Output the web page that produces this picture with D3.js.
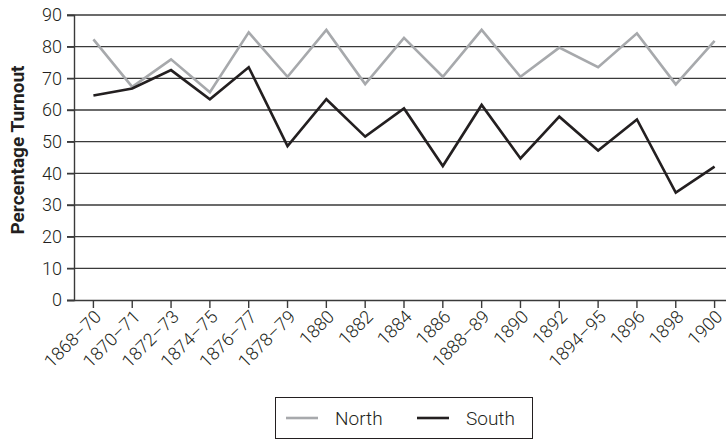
<!DOCTYPE html>
<html><head><meta charset="utf-8">
<script src="https://cdn.jsdelivr.net/npm/d3@7"></script>
<style>body{margin:0;background:#fff;} svg{display:block;font-family:Roboto,"DejaVu Sans",sans-serif;}</style>
</head><body>
<svg id="c" width="726" height="440"></svg>
<script>
const categories = ["1868–70","1870–71","1872–73","1874–75","1876–77","1878–79","1880","1882","1884","1886","1888–89","1890","1892","1894–95","1896","1898","1900"];
const north = [82.3,67.3,76.0,65.6,84.5,70.5,85.3,68.2,82.8,70.5,85.3,70.5,79.7,73.5,84.2,68.1,81.8];
const south = [64.6,66.8,72.6,63.4,73.5,48.6,63.4,51.6,60.5,42.3,61.6,44.7,57.9,47.2,57.0,33.9,42.1];
const yTicks = [0,10,20,30,40,50,60,70,80,90];
const seriesNames = ["North","South"];
const colors = {North:"#a7a9ac", South:"#231f20"};

const svg = d3.select("#c");
const mLeft = 74, mRight = 734, mTop = 15, mBottom = 300;
const x = d3.scaleBand().domain(categories).range([mLeft, mRight]).padding(0);
const y = d3.scaleLinear().domain([0,90]).range([mBottom, mTop]);
const cx = d => x(d) + x.bandwidth()/2;

// gridlines
svg.append("g").selectAll("line").data(yTicks.filter(t=>t>0)).join("line")
  .attr("x1", mLeft-7).attr("x2", 726).attr("y1", d=>y(d)).attr("y2", d=>y(d))
  .attr("stroke", "#3a3a3a").attr("stroke-width", 1.4);

// y axis
const ya = svg.append("g").attr("transform",`translate(${mLeft},0)`)
  .call(d3.axisLeft(y).tickValues(yTicks).tickSize(7).tickPadding(5));
ya.select(".domain").attr("stroke","#3a3a3a").attr("stroke-width",1.4);
ya.selectAll(".tick line").attr("stroke","#3a3a3a").attr("stroke-width",1.4);
ya.selectAll("text").attr("font-size",18).attr("font-weight",300).attr("fill","#231f20").attr("font-family","Roboto");

// x axis
const xa = svg.append("g").attr("transform",`translate(0,${mBottom})`)
  .call(d3.axisBottom(x).tickSize(8).tickSizeOuter(0));
xa.select(".domain").attr("stroke","#3a3a3a").attr("stroke-width",1.4).attr("d",`M${mLeft-7},0.5H726`);
xa.selectAll(".tick line").attr("stroke","#3a3a3a").attr("stroke-width",1.4);
xa.selectAll("text").attr("font-size",18).attr("font-weight",300).attr("fill","#231f20").attr("font-family","Roboto")
  .attr("text-anchor","end").attr("dy",0).attr("y",0)
  .attr("transform","translate(9,18) rotate(-45)");

// y title
svg.append("text").attr("transform",`translate(24,150) rotate(-90)`)
  .attr("text-anchor","middle").attr("font-size",19).attr("font-weight","bold").attr("fill","#231f20")
  .text("Percentage Turnout");

// lines
const line = d3.line().x((d,i)=>cx(categories[i])).y(d=>y(d));
svg.append("path").datum(north).attr("d",line).attr("fill","none").attr("stroke",colors.North).attr("stroke-width",2.6);
svg.append("path").datum(south).attr("d",line).attr("fill","none").attr("stroke",colors.South).attr("stroke-width",2.6);

// legend
const lg = svg.append("g");
lg.append("rect").attr("x",275.5).attr("y",397.5).attr("width",257).attr("height",41)
  .attr("fill","#fff").attr("stroke","#231f20").attr("stroke-width",1);
const items = [{n:seriesNames[0],lx:286,tx:335},{n:seriesNames[1],lx:417,tx:466}];
items.forEach(it=>{
  lg.append("line").attr("x1",it.lx).attr("x2",it.lx+32).attr("y1",418).attr("y2",418)
    .attr("stroke",colors[it.n]).attr("stroke-width",2.6);
  lg.append("text").attr("x",it.tx).attr("y",424.5).attr("font-size",19).attr("font-weight",300).attr("fill","#231f20").text(it.n);
});
</script>
</body></html>
